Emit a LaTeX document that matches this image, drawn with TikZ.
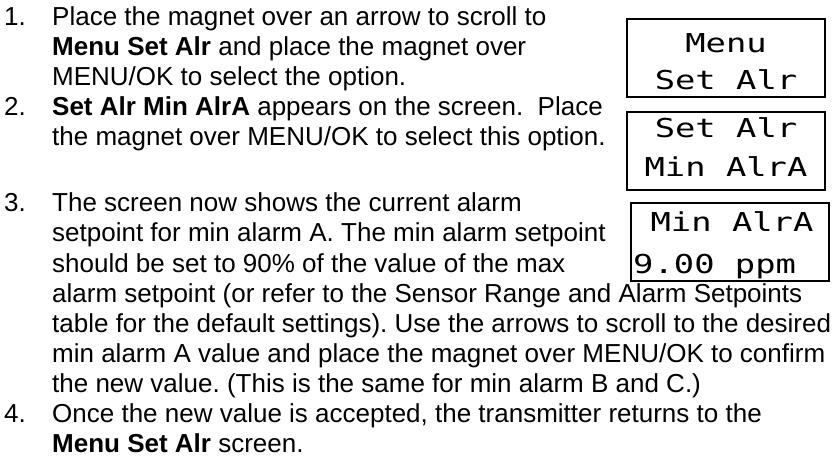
\documentclass[tikz,border=0pt]{standalone}
\usepackage{fontspec}
\setmainfont{Liberation Sans}
\newfontfamily\lcdfont[FakeStretch=1.3]{DejaVu Sans Mono}
\usepackage{tikz}
\frenchspacing

\begin{document}
\begin{tikzpicture}[x = 1pt, y = -1pt,
  num/.style = {anchor = base west, inner sep = 0pt, font = \fontsize{26}{30}\selectfont},
  txt/.style = {anchor = base west, inner sep = 0pt, font = \fontsize{26}{30}\selectfont},
  screen/.style = {draw, line width = 2pt, minimum width = 198pt, minimum height = 78pt, inner sep = 0pt},
  lcd/.style = {anchor = base, inner sep = 0pt, font = \lcdfont\fontsize{26}{30}\selectfont}]
\useasboundingbox (0,0) rectangle (837,470);

% step 1
\node[num] (n1) at (4,26) {1.};
\node[txt] (l1) at (52,26) {Place the magnet over an arrow to scroll to};
\node[txt] (l2) at (52,56) {\textbf{Menu Set Alr} and place the magnet over};
\node[txt] (l3) at (52,86) {MENU/OK to select the option.};

% step 2
\node[num] (n2) at (4,116) {2.};
\node[txt] (l4) at (52,116) {\textbf{Set Alr Min AlrA} appears on the screen.\ \ Place};
\node[txt] (l5) at (52,146) {the magnet over MENU/OK to select this option.};

% step 3
\node[num] (n3) at (4,212) {3.};
\node[txt] (l6) at (52,212) {The screen now shows the current alarm};
\node[txt] (l7) at (52,242) {setpoint for min alarm A. The min alarm setpoint};
\node[txt] (l8) at (52,272) {should be set to 90\% of the value of the max};
\node[txt] (l9) at (52,302) {alarm setpoint (or refer to the Sensor Range and Alarm Setpoints};
\node[txt] (l10) at (52,332) {table for the default settings). Use the arrows to scroll to the desired};
\node[txt] (l11) at (52,362) {min alarm A value and place the magnet over MENU/OK to confirm};
\node[txt] (l12) at (52,392) {the new value. (This is the same for min alarm B and C.)};

% step 4
\node[num] (n4) at (4,422) {4.};
\node[txt] (l13) at (52,422) {Once the new value is accepted, the transmitter returns to the};
\node[txt] (l14) at (52,452) {\textbf{Menu Set Alr} screen.};

% display screens
\node[screen] (s1) at (726,58) {};
\node[lcd] (s1a) at (726,53) {Menu};
\node[lcd] (s1b) at (726,90) {Set Alr};

\node[screen] (s2) at (726,151) {};
\node[lcd] (s2a) at (726,138) {Set Alr};
\node[lcd] (s2b) at (726,177) {Min AlrA};

\node[screen] (s3) at (730,242) {};
\node[lcd] (s3a) at (732,232) {Min AlrA};
\node[lcd, anchor = base west] (s3b) at (633,273) {9.00 ppm};
\end{tikzpicture}
\end{document}
